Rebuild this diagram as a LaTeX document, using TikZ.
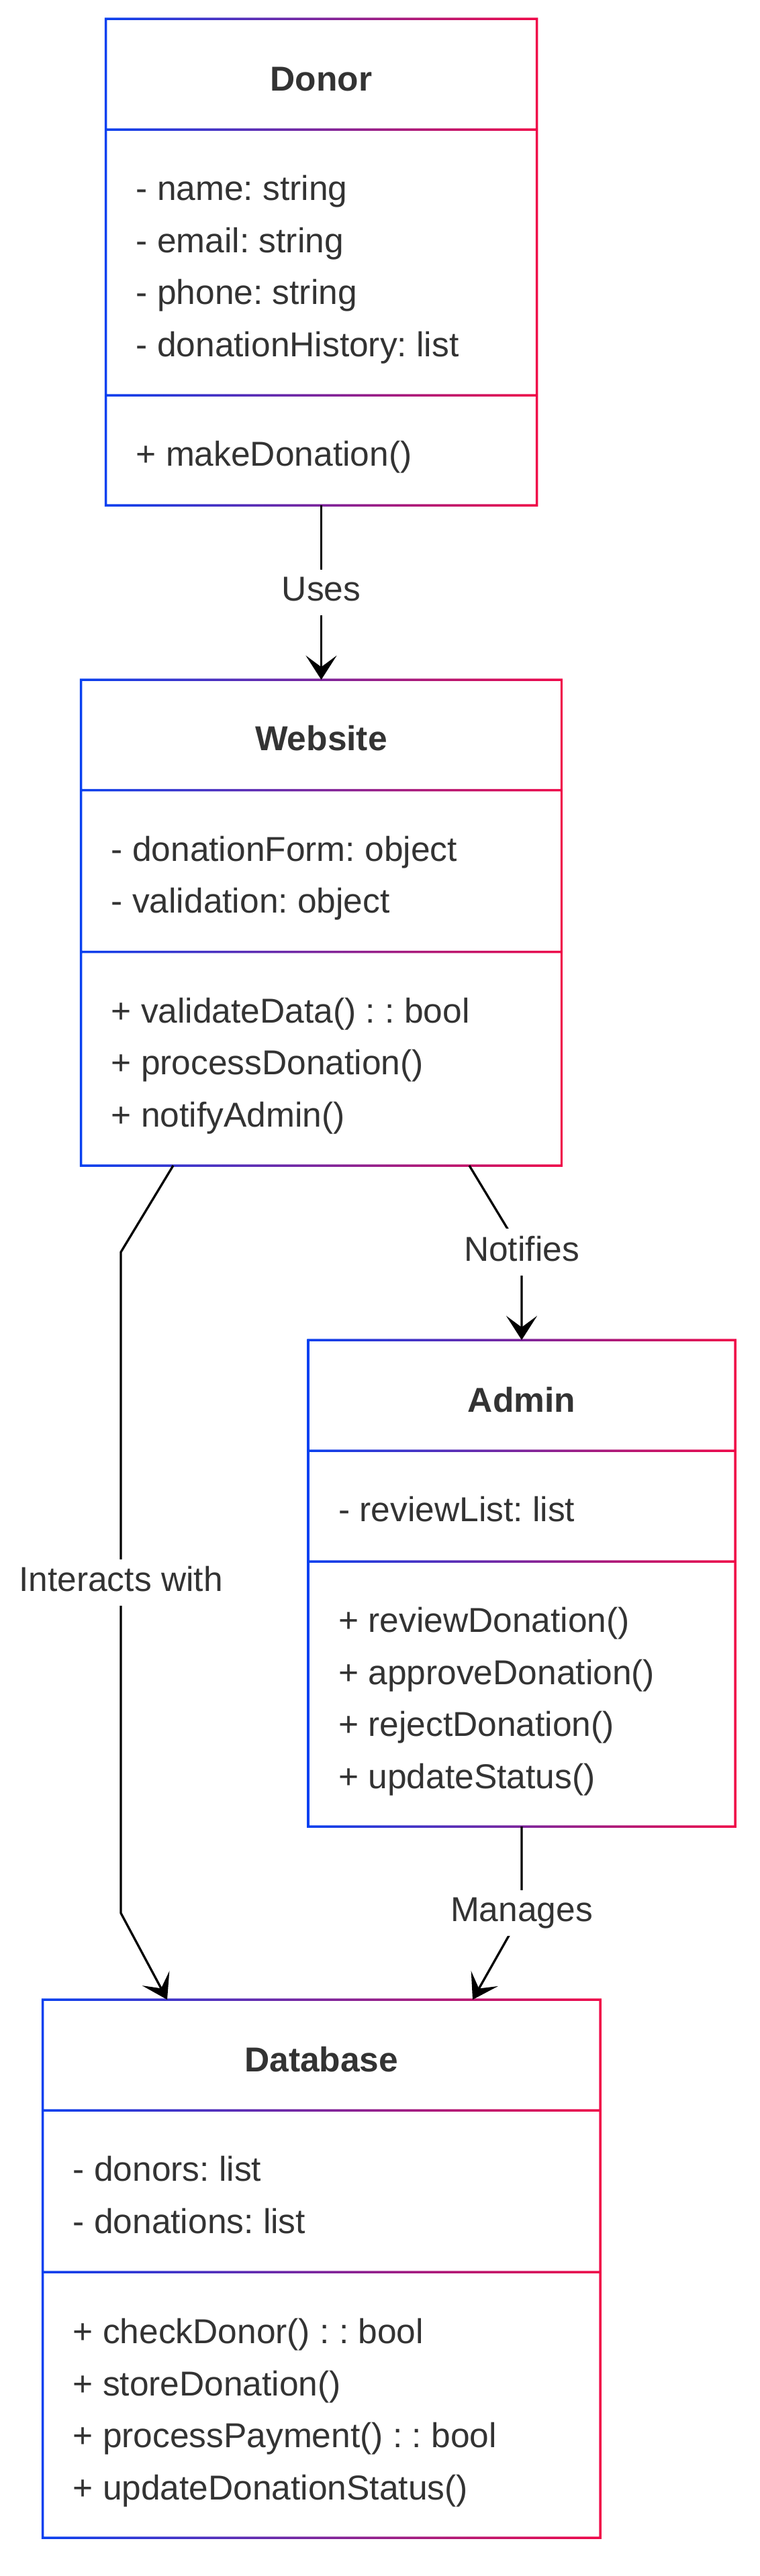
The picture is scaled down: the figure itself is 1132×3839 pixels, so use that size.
\documentclass[tikz,border=0pt]{standalone}
\usepackage{fontspec}
\setmainfont{Liberation Sans}
\usetikzlibrary{arrows.meta,calc}
\definecolor{bluec}{RGB}{8,64,240}
\definecolor{pinkc}{RGB}{240,8,72}
\definecolor{txtc}{RGB}{51,51,51}
\newcommand\lstrut{\rule[-11pt]{0pt}{46.5pt}}
\newcommand\clsframe[3]{%
  \shade[left color=bluec, right color=pinkc, even odd rule]
    ($(#1.north west)+(-1.75,-1.75)$) rectangle ($(#1.south east)+(1.75,1.75)$)
    ($(#1.north west)+(1.75,1.75)$) rectangle ($(#1.south east)+(-1.75,-1.75)$)
    ($(#1.north west)+(1.75,#2-1.75)$) rectangle ($(#1.north east)+(-1.75,#2+1.75)$)
    ($(#1.north west)+(1.75,#3-1.75)$) rectangle ($(#1.north east)+(-1.75,#3+1.75)$);}
\tikzset{
  box/.style={rectangle, draw=none, inner sep=0pt, outer sep=0pt, anchor=north west},
  txt/.style={text=txtc, inner sep=0pt, font=\frenchspacing\fontsize{51.5}{77}\selectfont},
  ttl/.style={text=txtc, inner sep=0pt, font=\frenchspacing\bfseries\fontsize{51.5}{77}\selectfont, anchor=base},
  mem/.style={txt, anchor=base west},
  lbl/.style={txt, fill=white, inner xsep=4pt, inner ysep=10.75pt},
  conn/.style={draw=black, line width=3.3pt, -{Stealth[length=36pt,width=46pt,inset=17pt]}},
}
\begin{document}
\frenchspacing
\begin{tikzpicture}[x=1pt, y=-1pt]
\fill[white] (0,0) rectangle (1132,3839);
\useasboundingbox (0,0) rectangle (1132,3839);

% ---------- boxes ----------
\node[box, minimum width=642pt, minimum height=725pt] (donor) at (157.5,28) {};
\node[box, minimum width=716pt, minimum height=724pt] (website) at (120.5,1013) {};
\node[box, minimum width=636pt, minimum height=725pt] (admin) at (459,1997) {};
\node[box, minimum width=830.5pt, minimum height=802pt] (database) at (63.5,2980) {};

\clsframe{donor}{165}{561}
\clsframe{website}{164.5}{405.5}
\clsframe{admin}{165}{330}
\clsframe{database}{165}{406}

% ---------- Donor ----------
\node[ttl] (donor-t) at ($(donor.north)+(0,107)$) {Donor};
\node[mem] (donor-a1) at ($(donor.north west)+(45,270.5)$) {- name: string};
\node[mem] (donor-a2) at ($(donor.north west)+(45,348)$) {- email: string};
\node[mem] (donor-a3) at ($(donor.north west)+(45,425.5)$) {- phone: string};
\node[mem] (donor-a4) at ($(donor.north west)+(45,503)$) {- donationHistory: list};
\node[mem] (donor-m1) at ($(donor.north west)+(45,666.5)$) {+ makeDonation()};

% ---------- Website ----------
\node[ttl] (website-t) at ($(website.north)+(0,105)$) {Website};
\node[mem] (website-a1) at ($(website.north west)+(45,270)$) {- donationForm: object};
\node[mem] (website-a2) at ($(website.north west)+(45,347)$) {- validation: object};
\node[mem] (website-m1) at ($(website.north west)+(45,511)$) {+ validateData() : : bool};
\node[mem] (website-m2) at ($(website.north west)+(45,588.5)$) {+ processDonation()};
\node[mem] (website-m3) at ($(website.north west)+(45,666)$) {+ notifyAdmin()};

% ---------- Admin ----------
\node[ttl] (admin-t) at ($(admin.north)+(0,107)$) {Admin};
\node[mem] (admin-a1) at ($(admin.north west)+(45,270.5)$) {- reviewList: list};
\node[mem] (admin-m1) at ($(admin.north west)+(45,435.5)$) {+ reviewDonation()};
\node[mem] (admin-m2) at ($(admin.north west)+(45,513)$) {+ approveDonation()};
\node[mem] (admin-m3) at ($(admin.north west)+(45,590.5)$) {+ rejectDonation()};
\node[mem] (admin-m4) at ($(admin.north west)+(45,668)$) {+ updateStatus()};

% ---------- Database ----------
\node[ttl] (database-t) at ($(database.north)+(0,107)$) {Database};
\node[mem] (database-a1) at ($(database.north west)+(45,270.5)$) {- donors: list};
\node[mem] (database-a2) at ($(database.north west)+(45,348)$) {- donations: list};
\node[mem] (database-m1) at ($(database.north west)+(45,512.5)$) {+ checkDonor() : : bool};
\node[mem] (database-m2) at ($(database.north west)+(45,590)$) {+ storeDonation()};
\node[mem] (database-m3) at ($(database.north west)+(45,667.5)$) {+ processPayment() : : bool};
\node[mem] (database-m4) at ($(database.north west)+(45,745)$) {+ updateDonationStatus()};

% ---------- connectors ----------
\coordinate (i1) at (180,1866);
\coordinate (i2) at (180,2851);
\coordinate (n1) at (777,1866);
\coordinate (m1) at (777,2851);

\draw[conn] (donor.south) -- node[lbl] (l-uses) {\lstrut Uses} (website.north);
\draw[conn] ($(website.south west)+(137.5,0)$) -- (i1) -- node[lbl] (l-inter) {\lstrut Interacts with} (i2) -- ($(database.north west)+(185.5,0)$);
\draw[conn] ($(website.south west)+(578.5,0)$) -- (n1) node[lbl] (l-notif) {\lstrut Notifies} -- (admin.north);
\draw[conn] (admin.south) -- (m1) node[lbl] (l-man) {\lstrut Manages} -- ($(database.north west)+(640.5,0)$);
\end{tikzpicture}
\end{document}
